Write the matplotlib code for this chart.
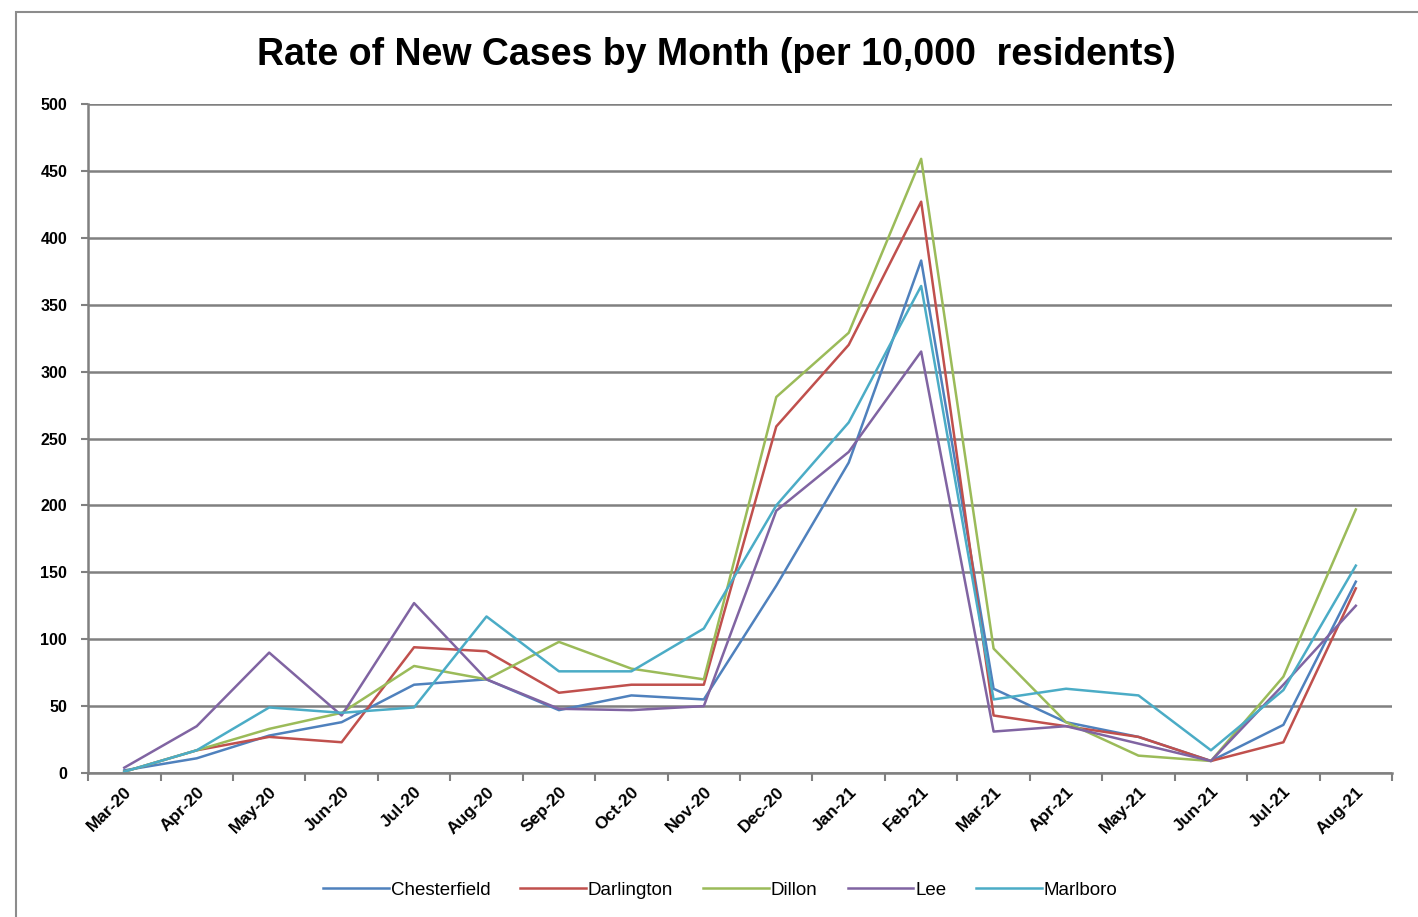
import numpy as np
import matplotlib.pyplot as plt
from matplotlib.patches import Rectangle

plt.rcParams['font.family'] = ['Liberation Sans', 'DejaVu Sans']

## - DATA - ##

months = ['Mar-20', 'Apr-20', 'May-20', 'Jun-20', 'Jul-20', 'Aug-20', 'Sep-20', 'Oct-20', 'Nov-20',
          'Dec-20', 'Jan-21', 'Feb-21', 'Mar-21', 'Apr-21', 'May-21', 'Jun-21', 'Jul-21', 'Aug-21']

chesterfield = [2, 11, 28, 38, 66, 70, 47, 58, 55, 140, 232, 383, 63, 38, 27, 9, 36, 143]
darlington = [1, 17, 27, 23, 94, 91, 60, 66, 66, 259, 320, 427, 43, 35, 27, 9, 23, 138]
dillon = [1, 17, 33, 45, 80, 70, 98, 78, 70, 281, 329, 459, 93, 38, 13, 9, 72, 197]
lee = [4, 35, 90, 43, 127, 70, 48, 47, 50, 196, 240, 315, 31, 35, 22, 9, 66, 125]
marlboro = [1, 17, 49, 45, 49, 117, 76, 76, 108, 200, 262, 364, 55, 63, 58, 17, 62, 155]

series = [
    ('Chesterfield', chesterfield, '#4F81BD'),
    ('Darlington', darlington, '#C0504D'),
    ('Dillon', dillon, '#9BBB59'),
    ('Lee', lee, '#8064A2'),
    ('Marlboro', marlboro, '#4BACC6'),
]

## - FIGURE - ##

fig = plt.figure(figsize=(14.18, 9.17), dpi=100)
fig.patches.append(Rectangle((0.011, -0.01), 1.2, 0.997, transform=fig.transFigure,
                             fill=False, edgecolor='#8c8c8c', linewidth=1.5))

ax = fig.add_axes([0.0621, 0.157, 0.9196, 0.7296])
x = np.arange(len(months))

for name, values, color in series:
    ax.plot(x, values, color=color, linewidth=1.8, label=name)

ax.set_xlim(-0.5, len(months) - 0.5)
ax.set_ylim(0, 500)
ax.set_yticks(np.arange(0, 501, 50))
ax.yaxis.grid(True, color='#808080', linewidth=1.8)
ax.set_axisbelow(True)

# category ticks at the boundaries, labels at the centres
ax.set_xticks(np.arange(-0.5, len(months) + 0.5, 1))
ax.set_xticklabels([])
ax.set_xticks(x, minor=True)
ax.set_xticklabels(months, minor=True, rotation=45, ha='right', rotation_mode='anchor',
                   fontsize=12.5, fontweight='bold')
ax.tick_params(axis='x', which='minor', length=0, pad=8)
ax.tick_params(axis='x', which='major', length=6, color='#808080', width=1.5)
ax.tick_params(axis='y', length=5, color='#808080', width=1.5, labelsize=11.5, pad=10)
for lbl in ax.get_yticklabels():
    lbl.set_fontweight('bold')

for side in ['top', 'right']:
    ax.spines[side].set_visible(False)
ax.spines['left'].set_color('#808080')
ax.spines['left'].set_linewidth(1.8)
ax.spines['bottom'].set_color('#808080')
ax.spines['bottom'].set_linewidth(1.8)

fig.text(0.505, 0.94, 'Rate of New Cases by Month (per 10,000  residents)', ha='center', va='center',
         fontsize=27, fontweight='bold')

fig.legend(loc='center', bbox_to_anchor=(0.508, 0.029), ncol=5, frameon=False, fontsize=13.5,
           handlelength=3.5, handletextpad=0.1, columnspacing=1.6)

fig.savefig('out.png', dpi=100)
